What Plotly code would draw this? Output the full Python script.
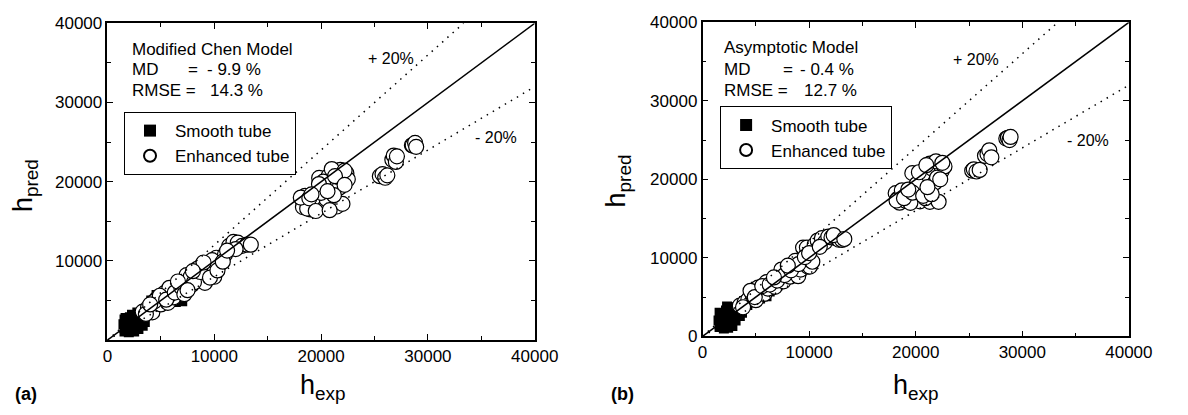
import plotly.graph_objects as go

W, H = 1188, 415

# ---------------- data ----------------
# Panel (a): Modified Chen Model
a_smooth_x = [1600, 1700, 1800, 1800, 1900, 2000, 2000, 2100, 2200, 2200, 2300, 2400, 2500, 2500,
              2600, 2700, 2800, 2900, 3000, 3100, 3200, 3300, 3400, 1700, 2300, 2800, 3000, 1500,
              1600, 3500, 3600,
              3700, 4100, 4300, 4600, 5000, 5200, 5600, 6000, 6400, 6700, 7000, 3900, 4800]
a_smooth_y = [1100, 1600, 2100, 1300, 2500, 1000, 1800, 2900, 1300, 2200, 3200, 1700, 1100, 2600,
              3100, 1900, 2500, 1400, 3300, 2200, 2800, 1800, 3000, 2800, 1200, 3500, 2000, 2000,
              2600, 2300, 3600,
              3500, 5000, 3900, 5700, 4300, 5300, 4700, 5200, 4800, 5300, 4900, 4400, 4800]

a_enh_x = [3300, 3800, 4200, 4600, 5000, 5300, 5660, 6000, 6200, 6500, 6800, 7030, 7300, 7600, 7900,
           8200, 8500, 8860, 9130, 9300, 9500, 9770, 10000, 10200, 10500, 11000, 11400, 11800, 12200,
           12600, 13060, 13420, 12000, 9800, 8400, 7400, 5800, 4400, 4900, 5500, 6300, 6900, 7200,
           7800, 8100, 8700, 9000, 9600, 10300, 10800, 11200, 3600, 4000, 6600, 7500, 8000,
           18260, 18300, 18500, 18800, 19000, 19360, 19600, 19820, 20000, 20200, 20400, 20500, 20700,
           20900, 21190, 21460, 21500, 21740, 21800, 22000, 22370, 22500, 21000, 20200, 19200, 18700,
           20000, 21200, 18100, 18900, 19500, 20800, 21600, 22200, 19800, 21300, 20600, 22200, 19100,
           25500, 25750, 26000, 26200, 26670, 26800, 27000, 27100, 28500, 28580, 28800, 28900]
a_enh_y = [3600, 4100, 3500, 5200, 4500, 5900, 4700, 6300, 5400, 7000, 6200, 7230, 6600, 7700, 7000,
           8300, 7500, 9520, 7230, 8400, 9300, 8900, 8000, 10400, 9600, 10800, 11900, 12400, 12300,
           11900, 12050, 12050, 11500, 10100, 9000, 8200, 6600, 4900, 5600, 5100, 6000, 6700, 5800,
           8000, 7300, 8600, 9800, 7900, 8800, 9900, 11300, 3300, 4500, 7400, 6300, 8700,
           17710, 16800, 18200, 17300, 16500, 16870, 17500, 20480, 17000, 19300, 16800, 17800, 20700,
           19100, 21080, 16870, 19900, 19280, 21500, 17200, 21080, 20300, 21600, 20000, 17800, 16600,
           18600, 18300, 18000, 17900, 16300, 16400, 20600, 21400, 19700, 20700, 18800, 19600, 18400,
           20700, 20960, 20500, 20800, 22770, 23300, 22500, 23200, 24600, 24580, 24900, 24400]

# Panel (b): Asymptotic Model
b_smooth_x = [1600, 1700, 1800, 1900, 2000, 2000, 2100, 2200, 2300, 2400, 2500, 2600, 2700, 2800,
              2900, 3000, 3100, 3200, 3400, 3500, 1700, 2300, 2800, 3600, 2400, 1500, 1600, 3700,
              3900, 4300, 4600, 4800, 5100, 5400, 5700, 6000, 6300, 4200, 5000]
b_smooth_y = [1200, 1800, 2400, 1400, 2900, 1000, 2000, 3300, 1500, 2500, 3700, 1900, 3000, 1300,
              2400, 3500, 2000, 2900, 3300, 2600, 2600, 3800, 3500, 3800, 1100, 2000, 3000, 3000,
              4500, 5200, 6000, 4700, 5600, 4800, 5300, 5100, 5700, 4000, 6300]

b_enh_x = [3500, 3940, 4300, 4700, 5000, 5400, 5800, 6130, 6500, 6800, 7100, 7320, 7600, 7900, 8200,
           8500, 8970, 9200, 9430, 9790, 9890, 10070, 10300, 10530, 10800, 11200, 11500, 11800, 12100,
           12540, 12800, 13090, 8700, 7400, 6000, 5200, 4500, 4900, 5600, 6300, 7000, 7700, 8300,
           9000, 9600, 10000, 11000, 12300, 13300, 3800, 6700, 8000,
           18120, 18300, 18490, 18700, 19000, 19300, 19680, 19950, 20200, 20400, 20600, 20800, 21000,
           21200, 21330, 21330, 21600, 21790, 22150, 22430, 22700, 21900, 20100, 19500, 20900, 22000,
           18200, 18900, 19700, 20700, 21500, 22300, 20300, 21100, 19300, 22500, 21000,
           25300, 25450, 25700, 26000, 26500, 26730, 26900, 27100, 28500, 28650, 28800, 28900]
b_enh_y = [3900, 4260, 4700, 5300, 4600, 5900, 5400, 6080, 6800, 6300, 7400, 7660, 7000, 8100, 7600,
           8800, 7660, 8500, 11300, 11300, 8880, 8880, 9500, 11670, 12200, 12500, 12000, 12700, 12600,
           12520, 12300, 12280, 9600, 8500, 6900, 6200, 5800, 5000, 6400, 6600, 7100, 7800, 8400,
           9200, 10100, 10600, 11400, 12900, 12400, 3700, 7500, 9000,
           18240, 17500, 17020, 18600, 17300, 18000, 20790, 17750, 18400, 17200, 19800, 21200, 18700,
           20300, 22010, 17140, 21300, 19570, 17140, 21030, 21640, 22300, 19400, 17000, 17600, 20200,
           17300, 17600, 18300, 17900, 18100, 20000, 20900, 19000, 18700, 22100, 21800,
           21100, 21280, 21000, 21200, 23000, 23220, 23700, 22800, 25200, 25290, 25000, 25400]

axis_max = 40000
band_hi = 1.2
band_lo = 0.8
tick_major = [0, 10000, 20000, 30000, 40000]
tick_minor = [5000, 15000, 25000, 35000]

FONT = "Arial, Liberation Sans, sans-serif"

def px(x):
    return x / W

def py(y):
    return 1 - y / H

fig = go.Figure()

panels = [
    dict(sx=a_smooth_x, sy=a_smooth_y, ex=a_enh_x, ey=a_enh_y, xa="x", ya="y", leg="legend"),
    dict(sx=b_smooth_x, sy=b_smooth_y, ex=b_enh_x, ey=b_enh_y, xa="x2", ya="y2", leg="legend2"),
]

for p in panels:
    fig.add_trace(go.Scatter(x=p["sx"], y=p["sy"], mode="markers", name="Smooth tube",
                             xaxis=p["xa"], yaxis=p["ya"], legend=p["leg"],
                             marker=dict(symbol="square", size=10, color="black",
                                         line=dict(width=0))))
    fig.add_trace(go.Scatter(x=p["ex"], y=p["ey"], mode="markers", name="Enhanced tube",
                             xaxis=p["xa"], yaxis=p["ya"], legend=p["leg"],
                             marker=dict(symbol="circle", size=15, color="white",
                                         line=dict(width=1.2, color="black"))))
    # reference lines
    fig.add_trace(go.Scatter(x=[0, axis_max], y=[0, axis_max], mode="lines", showlegend=False,
                             xaxis=p["xa"], yaxis=p["ya"], hoverinfo="skip",
                             line=dict(color="black", width=1.5)))
    fig.add_trace(go.Scatter(x=[0, axis_max / band_hi], y=[0, axis_max], mode="lines",
                             showlegend=False, xaxis=p["xa"], yaxis=p["ya"], hoverinfo="skip",
                             line=dict(color="black", width=1.5, dash="1.5px,5.5px")))
    fig.add_trace(go.Scatter(x=[0, axis_max], y=[0, axis_max * band_lo], mode="lines",
                             showlegend=False, xaxis=p["xa"], yaxis=p["ya"], hoverinfo="skip",
                             line=dict(color="black", width=1.5, dash="1.5px,5.5px")))

def axis(domain, anchor, tickvals, ticktext):
    return dict(domain=domain, anchor=anchor, range=[0, axis_max], showgrid=False, zeroline=False,
                showline=True, linecolor="black", linewidth=1.5, mirror="ticks",
                ticks="inside", ticklen=6, tickwidth=1.3, tickcolor="black",
                tickmode="array", tickvals=tickvals, ticktext=ticktext,
                tickfont=dict(family=FONT, size=17, color="black"),
                minor=dict(tickmode="array", tickvals=tick_minor, ticks="inside", ticklen=4,
                           tickwidth=1.3, tickcolor="black", showgrid=False))

lbl = [str(v) for v in tick_major]
lbl_no0 = [""] + lbl[1:]

fig.update_layout(
    width=W, height=H, margin=dict(l=0, r=0, t=0, b=0),
    paper_bgcolor="white", plot_bgcolor="white",
    font=dict(family=FONT, color="black"),
    xaxis=axis([px(105), px(543)], "y", tick_major, lbl),
    yaxis=axis([py(347), py(15)], "x", tick_major, lbl_no0),
    xaxis2=axis([px(715), px(1152)], "y2", tick_major, lbl),
    yaxis2=axis([py(343), py(14)], "x2", tick_major, lbl),
    legend=dict(x=px(122), y=py(108), xanchor="left", yanchor="top", bgcolor="white",
                bordercolor="black", borderwidth=1, font=dict(family=FONT, size=17),
                itemwidth=40, tracegroupgap=0, itemsizing="constant"),
    legend2=dict(x=px(733), y=py(102), xanchor="left", yanchor="top", bgcolor="white",
                 bordercolor="black", borderwidth=1, font=dict(family=FONT, size=17),
                 itemwidth=40, tracegroupgap=0, itemsizing="constant"),
    showlegend=True,
)

def note(text, x, y, size=17, anchor="left", bold=False, angle=0):
    fig.add_annotation(text=("<b>%s</b>" % text) if bold else text,
                       x=px(x), y=py(y), xref="paper", yref="paper",
                       xanchor=anchor, yanchor="middle", showarrow=False, textangle=angle,
                       font=dict(family=FONT, size=size, color="black"))

# panel (a) texts
note("Modified Chen Model", 128, 42)
note("MD", 128, 63)
note("=", 186, 63)
note("- 9.9 %", 205, 63)
note("RMSE =", 128, 85)
note("14.3 %", 208, 85)
note("+ 20%", 370, 52, size=16)
note("- 20%", 480, 135, size=16)
# panel (b) texts
note("Asymptotic Model", 735, 40)
note("MD", 735, 63)
note("=", 795, 63)
note("- 0.4 %", 813, 63)
note("RMSE =", 735, 85)
note("12.7 %", 817, 85)
note("+ 20%", 970, 53, size=16)
note("- 20%", 1087, 138, size=16)

# axis titles
note("h<sub>exp</sub>", 326, 396, size=27, anchor="center")
note("h<sub>exp</sub>", 934, 396, size=27, anchor="center")
note("h<sub>pred</sub>", 20, 185, size=27, anchor="center", angle=-90)
note("h<sub>pred</sub>", 628, 180, size=27, anchor="center", angle=-90)
# panel labels
note("(a)", 22, 403, size=18, anchor="center", bold=True)
note("(b)", 633, 403, size=18, anchor="center", bold=True)

fig.write_html("out.html")
